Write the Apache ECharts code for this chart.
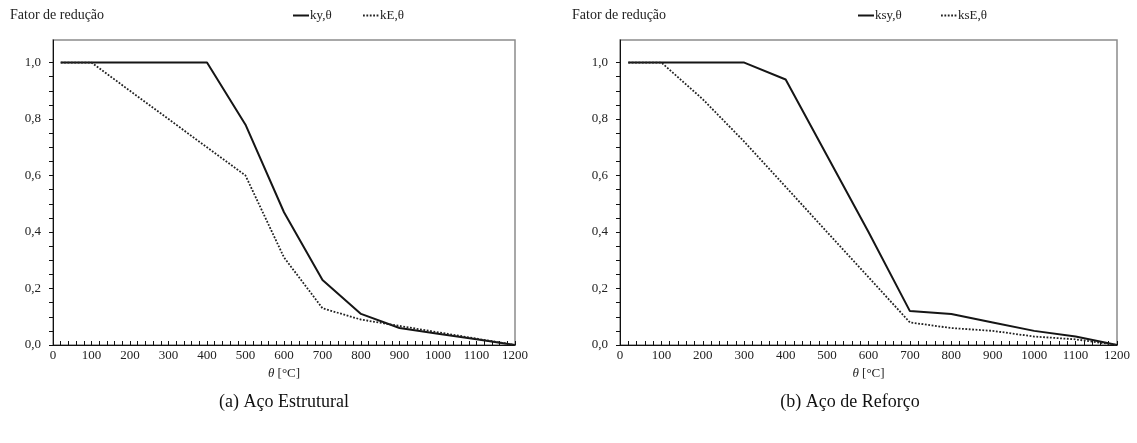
<!DOCTYPE html>
<html>
<head>
<meta charset="utf-8">
<script src="https://cdn.jsdelivr.net/npm/echarts@6/dist/echarts.min.js"></script>
<style>html,body{margin:0;padding:0;background:#fff}#c{width:1137px;height:443px}</style>
</head>
<body>
<div id="c"></div>
<script>
// ---- data ----
const temperatures = [20, 100, 200, 300, 400, 500, 600, 700, 800, 900, 1000, 1100, 1200];
// (a) Aço Estrutural
const ky = [1, 1, 1, 1, 1, 0.78, 0.47, 0.23, 0.11, 0.06, 0.04, 0.02, 0];
const kE = [1, 1, 0.9, 0.8, 0.7, 0.6, 0.31, 0.13, 0.09, 0.0675, 0.045, 0.0225, 0];
// (b) Aço de Reforço
const ksy = [1, 1, 1, 1, 0.94, 0.67, 0.40, 0.12, 0.11, 0.08, 0.05, 0.03, 0];
const ksE = [1, 1, 0.87, 0.72, 0.56, 0.40, 0.24, 0.08, 0.06, 0.05, 0.03, 0.02, 0];
const seriesNames = ['ky,θ', 'kE,θ', 'ksy,θ', 'ksE,θ'];
const yTickValues = [0, 0.05, 0.1, 0.15, 0.2, 0.25, 0.3, 0.35, 0.4, 0.45, 0.5, 0.55, 0.6, 0.65, 0.7, 0.75, 0.8, 0.85, 0.9, 0.95, 1.0];
const yLabelValues = [0, 0.2, 0.4, 0.6, 0.8, 1.0];
const yAxisTitle = 'Fator de redução';
const captions = ['(a) Aço Estrutural', '(b) Aço de Reforço'];

const zip = (xs, ys) => xs.map((x, i) => [x, ys[i]]);
const FONT = '"Liberation Serif", "DejaVu Serif", serif';
const TXT = '#222';

const grids = [
  { left: 53, top: 40, width: 462, bottom: 98 },
  { left: 620, top: 40, width: 497, bottom: 98 }
];

function xAxisFor(i) {
  return {
    gridIndex: i, type: 'value', min: 0, max: 1200, interval: 100,
    axisLine: { show: true, onZero: false, lineStyle: { color: '#111', width: 1 } },
    axisTick: { show: true, inside: true, length: 4, lineStyle: { color: '#111' } },
    minorTick: { show: true, splitNumber: 5, length: 4, lineStyle: { color: '#111' } },
    splitLine: { show: false },
    axisLabel: { color: TXT, fontFamily: FONT, fontSize: 13, margin: 4, formatter: v => String(v) },
    name: '{i|θ} [°C]', nameLocation: 'middle', nameGap: 22,
    nameTextStyle: { color: TXT, fontFamily: FONT, fontSize: 13,
      rich: { i: { fontStyle: 'italic', fontFamily: FONT, fontSize: 13, color: TXT } } }
  };
}
function yAxisFor(i) {
  return {
    gridIndex: i, type: 'value', min: 0, max: 1.08,
    axisLine: { show: true, lineStyle: { color: '#111', width: 1 } },
    axisTick: { show: true, inside: false, length: 4, customValues: yTickValues, lineStyle: { color: '#111' } },
    splitLine: { show: false },
    axisLabel: { color: TXT, fontFamily: FONT, fontSize: 13, margin: 12, customValues: yLabelValues,
      formatter: v => v.toFixed(1).replace('.', ',') }
  };
}
function lineSeries(name, data, gi, dotted) {
  return {
    name, type: 'line', xAxisIndex: gi, yAxisIndex: gi, data, symbol: 'none', silent: true,
    lineStyle: dotted ? { color: '#222', width: 1.8, type: [1.8, 1.6] } : { color: '#151515', width: 2 },
    itemStyle: { color: dotted ? '#222' : '#151515' }
  };
}
function legendFor(name, left) {
  return {
    data: [name], left, top: 9, itemWidth: 16, itemHeight: 8, itemGap: 0,
    selectedMode: false, padding: 0,
    itemStyle: { opacity: 0 },
    textStyle: { color: TXT, fontFamily: FONT, fontSize: 13, padding: [0, 0, 0, -4] }
  };
}

const chart = echarts.init(document.getElementById('c'), null, { renderer: 'canvas' });
chart.setOption({
  animation: false,
  backgroundColor: '#fff',
  grid: grids.map(g => Object.assign({ show: true, borderColor: '#8c8c8c', borderWidth: 1.5, backgroundColor: 'transparent' }, g)),
  xAxis: [xAxisFor(0), xAxisFor(1)],
  yAxis: [yAxisFor(0), yAxisFor(1)],
  legend: [legendFor(seriesNames[0], 292), legendFor(seriesNames[1], 362),
           legendFor(seriesNames[2], 857), legendFor(seriesNames[3], 940)],
  series: [
    lineSeries(seriesNames[0], zip(temperatures, ky), 0, false),
    lineSeries(seriesNames[1], zip(temperatures, kE), 0, true),
    lineSeries(seriesNames[2], zip(temperatures, ksy), 1, false),
    lineSeries(seriesNames[3], zip(temperatures, ksE), 1, true)
  ],
  graphic: [
    { type: 'text', left: 10, top: 8, style: { text: yAxisTitle, font: '14px ' + FONT, fill: TXT } },
    { type: 'text', left: 572, top: 8, style: { text: yAxisTitle, font: '14px ' + FONT, fill: TXT } },
    { type: 'text', x: 284, y: 402, style: { text: captions[0], font: '18px ' + FONT, fill: '#111', align: 'center', verticalAlign: 'middle' } },
    { type: 'text', x: 850, y: 402, style: { text: captions[1], font: '18px ' + FONT, fill: '#111', align: 'center', verticalAlign: 'middle' } }
  ]
});
</script>
</body>
</html>
